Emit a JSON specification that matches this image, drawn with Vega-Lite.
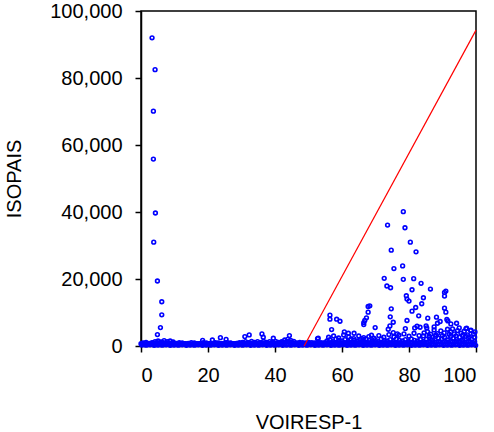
{
"$schema": "https://vega.github.io/schema/vega-lite/v6.json",
"width": 335, "height": 335,
"autosize": "none",
"padding": {"left": 141, "top": 11, "right": 18, "bottom": 86},
"background": "white",
"config": {
  "view": {"stroke": "black", "strokeWidth": 1.5},
  "axis": {"grid": false, "domainColor": "black", "domainWidth": 1.5, "tickColor": "black", "tickWidth": 1.5, "tickSize": 6,
    "labelFont": "Liberation Sans", "labelFontSize": 20, "labelColor": "black",
    "titleFont": "Liberation Sans", "titleFontSize": 20, "titleFontWeight": "normal", "titleColor": "black"}
},
"encoding": {
  "x": {"field": "x", "type": "quantitative", "scale": {"domain": [0, 100], "nice": false}, "axis": {"values": [0,20,40,60,80,100], "title": "VOIRESP-1", "labelPadding": 13, "titlePadding": 27}},
  "y": {"field": "y", "type": "quantitative", "scale": {"domain": [0, 100000], "nice": false}, "axis": {"values": [0,20000,40000,60000,80000,100000], "format": ",.0f", "formatType": "number", "title": "ISOPAIS", "labelPadding": 13, "titlePadding": 25}}
},
"layer": [
{
"data": {"values": [
{"x":0.3,"y":300},{"x":0.9,"y":500},{"x":1.5,"y":250},{"x":2.1,"y":450},{"x":2.7,"y":350},{"x":3.3,"y":550},{"x":3.9,"y":200},{"x":4.5,"y":400},
{"x":5.1,"y":300},{"x":5.7,"y":500},{"x":6.3,"y":250},{"x":6.9,"y":450},{"x":7.5,"y":350},{"x":8.1,"y":550},{"x":8.7,"y":200},{"x":9.3,"y":400},
{"x":9.9,"y":300},{"x":10.5,"y":500},{"x":11.1,"y":250},{"x":11.7,"y":450},{"x":12.3,"y":350},{"x":12.9,"y":550},{"x":13.5,"y":200},{"x":14.1,"y":400},
{"x":14.7,"y":300},{"x":15.3,"y":500},{"x":15.9,"y":250},{"x":16.5,"y":450},{"x":17.1,"y":350},{"x":17.7,"y":550},{"x":18.3,"y":200},{"x":18.9,"y":400},
{"x":19.5,"y":300},{"x":20.1,"y":500},{"x":20.7,"y":250},{"x":21.3,"y":450},{"x":21.9,"y":350},{"x":22.5,"y":550},{"x":23.1,"y":200},{"x":23.7,"y":400},
{"x":24.3,"y":300},{"x":24.9,"y":500},{"x":25.5,"y":250},{"x":26.1,"y":450},{"x":26.7,"y":350},{"x":27.3,"y":550},{"x":27.9,"y":200},{"x":28.5,"y":400},
{"x":29.1,"y":300},{"x":29.7,"y":500},{"x":30.3,"y":250},{"x":30.9,"y":450},{"x":31.5,"y":350},{"x":32.1,"y":550},{"x":32.7,"y":200},{"x":33.3,"y":400},
{"x":33.9,"y":300},{"x":34.5,"y":500},{"x":35.1,"y":250},{"x":35.7,"y":450},{"x":36.3,"y":350},{"x":36.9,"y":550},{"x":37.5,"y":200},{"x":38.1,"y":400},
{"x":38.7,"y":300},{"x":39.3,"y":500},{"x":39.9,"y":250},{"x":40.5,"y":450},{"x":41.1,"y":350},{"x":41.7,"y":550},{"x":42.3,"y":200},{"x":42.9,"y":400},
{"x":43.5,"y":300},{"x":44.1,"y":500},{"x":44.7,"y":250},{"x":45.3,"y":450},{"x":45.9,"y":350},{"x":46.5,"y":550},{"x":47.1,"y":200},{"x":47.7,"y":400},
{"x":48.3,"y":300},{"x":48.9,"y":500},{"x":49.5,"y":250},{"x":50.1,"y":450},{"x":50.7,"y":350},{"x":51.3,"y":550},{"x":51.9,"y":200},{"x":52.5,"y":400},
{"x":53.1,"y":300},{"x":53.7,"y":500},{"x":54.3,"y":250},{"x":54.9,"y":450},{"x":55.5,"y":350},{"x":56.1,"y":550},{"x":56.7,"y":200},{"x":57.3,"y":400},
{"x":57.9,"y":300},{"x":58.5,"y":500},{"x":59.1,"y":250},{"x":59.7,"y":450},{"x":60.3,"y":350},{"x":60.9,"y":550},{"x":61.5,"y":200},{"x":62.1,"y":400},
{"x":62.7,"y":300},{"x":63.3,"y":500},{"x":63.9,"y":250},{"x":64.5,"y":450},{"x":65.1,"y":350},{"x":65.7,"y":550},{"x":66.3,"y":200},{"x":66.9,"y":400},
{"x":67.5,"y":300},{"x":68.1,"y":500},{"x":68.7,"y":250},{"x":69.3,"y":450},{"x":69.9,"y":350},{"x":70.5,"y":550},{"x":71.1,"y":200},{"x":71.7,"y":400},
{"x":72.3,"y":300},{"x":72.9,"y":500},{"x":73.5,"y":250},{"x":74.1,"y":450},{"x":74.7,"y":350},{"x":75.3,"y":550},{"x":75.9,"y":200},{"x":76.5,"y":400},
{"x":77.1,"y":300},{"x":77.7,"y":500},{"x":78.3,"y":250},{"x":78.9,"y":450},{"x":79.5,"y":350},{"x":80.1,"y":550},{"x":80.7,"y":200},{"x":81.3,"y":400},
{"x":81.9,"y":300},{"x":82.5,"y":500},{"x":83.1,"y":250},{"x":83.7,"y":450},{"x":84.3,"y":350},{"x":84.9,"y":550},{"x":85.5,"y":200},{"x":86.1,"y":400},
{"x":86.7,"y":300},{"x":87.3,"y":500},{"x":87.9,"y":250},{"x":88.5,"y":450},{"x":89.1,"y":350},{"x":89.7,"y":550},{"x":90.3,"y":200},{"x":90.9,"y":400},
{"x":91.5,"y":300},{"x":92.1,"y":500},{"x":92.7,"y":250},{"x":93.3,"y":450},{"x":93.9,"y":350},{"x":94.5,"y":550},{"x":95.1,"y":200},{"x":95.7,"y":400},
{"x":96.3,"y":300},{"x":96.9,"y":500},{"x":97.5,"y":250},{"x":98.1,"y":450},{"x":98.7,"y":350},{"x":99.3,"y":550},{"x":99.9,"y":200},
{"x":0.0,"y":700},{"x":0.6,"y":750},{"x":1.2,"y":650},{"x":1.8,"y":800},{"x":2.4,"y":700},{"x":3.0,"y":750},{"x":3.6,"y":900},{"x":4.2,"y":850},{"x":4.8,"y":1000},{"x":5.4,"y":950},
{"x":6.0,"y":900},{"x":6.6,"y":1000},{"x":7.2,"y":850},{"x":7.8,"y":950},{"x":8.4,"y":900},{"x":9.0,"y":800},{"x":9.6,"y":750},{"x":10.2,"y":700},{"x":10.8,"y":650},{"x":11.4,"y":700},
{"x":12.0,"y":650},{"x":12.6,"y":700},{"x":13.2,"y":600},{"x":13.8,"y":650},{"x":14.4,"y":700},{"x":15.0,"y":650},{"x":15.6,"y":600},{"x":16.2,"y":700},{"x":16.8,"y":650},{"x":17.4,"y":700},
{"x":18.0,"y":650},{"x":18.6,"y":700},{"x":19.2,"y":600},{"x":19.8,"y":650},{"x":20.4,"y":700},{"x":21.0,"y":750},{"x":21.6,"y":650},{"x":22.2,"y":700},{"x":22.8,"y":800},{"x":23.4,"y":700},
{"x":24.0,"y":650},{"x":24.6,"y":750},{"x":25.2,"y":700},{"x":25.8,"y":650},{"x":26.4,"y":700},{"x":27.0,"y":750},{"x":27.6,"y":650},{"x":28.2,"y":700},{"x":28.8,"y":750},{"x":29.4,"y":700},
{"x":30.0,"y":800},{"x":30.6,"y":850},{"x":31.2,"y":750},{"x":31.8,"y":900},{"x":32.4,"y":800},{"x":33.0,"y":850},{"x":33.6,"y":750},{"x":34.2,"y":900},{"x":34.8,"y":800},{"x":35.4,"y":850},
{"x":36.0,"y":750},{"x":36.6,"y":900},{"x":37.2,"y":800},{"x":37.8,"y":850},{"x":38.4,"y":750},{"x":39.0,"y":900},{"x":39.6,"y":800},{"x":40.2,"y":850},{"x":40.8,"y":900},{"x":41.4,"y":950},
{"x":42.0,"y":1000},{"x":42.6,"y":1100},{"x":43.2,"y":1200},{"x":43.8,"y":1300},{"x":44.4,"y":1200},{"x":45.0,"y":1100},{"x":45.6,"y":900},{"x":46.2,"y":800},{"x":46.8,"y":750},{"x":47.4,"y":700},
{"x":48.0,"y":750},{"x":48.6,"y":700},{"x":49.2,"y":650},{"x":49.8,"y":750},{"x":50.4,"y":700},{"x":51.0,"y":650},{"x":51.6,"y":750},{"x":52.2,"y":700},{"x":52.8,"y":750},{"x":53.4,"y":700},
{"x":54.0,"y":800},{"x":54.6,"y":850},{"x":55.2,"y":900},{"x":55.8,"y":1000},{"x":56.4,"y":950},{"x":57.0,"y":1000},{"x":57.6,"y":900},{"x":58.2,"y":1000},{"x":58.8,"y":950},{"x":59.4,"y":1000},
{"x":60.0,"y":900},{"x":60.6,"y":1000},{"x":61.2,"y":950},{"x":61.8,"y":1000},{"x":62.4,"y":900},{"x":63.0,"y":1000},{"x":63.6,"y":950},{"x":64.2,"y":1000},{"x":64.8,"y":900},{"x":65.4,"y":1000},
{"x":66.0,"y":950},{"x":66.6,"y":1000},{"x":67.2,"y":900},{"x":67.8,"y":1000},{"x":68.4,"y":950},{"x":69.0,"y":1000},{"x":69.6,"y":900},{"x":70.2,"y":1000},{"x":70.8,"y":950},{"x":71.4,"y":1000},
{"x":72.0,"y":900},{"x":72.6,"y":1000},{"x":73.2,"y":950},{"x":73.8,"y":1000},{"x":74.4,"y":900},{"x":75.0,"y":1000},{"x":75.6,"y":950},{"x":76.2,"y":1000},{"x":76.8,"y":900},{"x":77.4,"y":1000},
{"x":78.0,"y":950},{"x":78.6,"y":1000},{"x":79.2,"y":900},{"x":79.8,"y":1000},{"x":80.4,"y":950},{"x":81.0,"y":1000},{"x":81.6,"y":900},{"x":82.2,"y":1000},{"x":82.8,"y":950},{"x":83.4,"y":1000},
{"x":84.0,"y":900},{"x":84.6,"y":1000},{"x":85.2,"y":1100},{"x":85.8,"y":1200},{"x":86.4,"y":1100},{"x":87.0,"y":1300},{"x":87.6,"y":1200},{"x":88.2,"y":1100},{"x":88.8,"y":1300},{"x":89.4,"y":1200},
{"x":90.0,"y":1100},{"x":90.6,"y":1300},{"x":91.2,"y":1200},{"x":91.8,"y":1100},{"x":92.4,"y":1300},{"x":93.0,"y":1200},{"x":93.6,"y":1100},{"x":94.2,"y":1300},{"x":94.8,"y":1200},{"x":95.4,"y":1100},
{"x":96.0,"y":1300},{"x":96.6,"y":1200},{"x":97.2,"y":1100},{"x":97.8,"y":1300},{"x":98.4,"y":1200},{"x":99.0,"y":1100},{"x":99.6,"y":1300},
{"x":0.6,"y":900},{"x":1.5,"y":1100},{"x":2.4,"y":800},{"x":3.3,"y":1000},{"x":4.2,"y":1300},{"x":5.1,"y":1500},{"x":6.0,"y":1200},{"x":6.9,"y":1600},{"x":7.8,"y":1300},{"x":8.7,"y":1500},{"x":9.6,"y":1200},
{"x":10.5,"y":800},{"x":11.4,"y":1000},{"x":12.3,"y":900},{"x":13.2,"y":700},{"x":14.1,"y":800},{"x":15.0,"y":1000},{"x":15.9,"y":900},{"x":16.8,"y":700},{"x":17.7,"y":800},{"x":18.6,"y":1000},{"x":19.5,"y":900},
{"x":20.4,"y":700},{"x":21.3,"y":800},{"x":22.2,"y":1000},{"x":23.1,"y":900},{"x":24.0,"y":700},{"x":24.9,"y":800},{"x":25.8,"y":1000},{"x":26.7,"y":900},{"x":27.6,"y":700},{"x":28.5,"y":800},{"x":29.4,"y":1000},
{"x":30.3,"y":1100},{"x":31.2,"y":1300},{"x":32.1,"y":1000},{"x":33.0,"y":1400},{"x":33.9,"y":1100},{"x":34.8,"y":1300},{"x":35.7,"y":1000},{"x":36.6,"y":1400},{"x":37.5,"y":1100},{"x":38.4,"y":1300},{"x":39.3,"y":1000},
{"x":40.2,"y":1400},{"x":41.1,"y":1100},{"x":42.0,"y":1300},{"x":42.9,"y":1800},{"x":43.8,"y":2000},{"x":44.7,"y":1700},{"x":45.6,"y":1400},{"x":46.5,"y":900},{"x":47.4,"y":1100},{"x":48.3,"y":1000},{"x":49.2,"y":900},
{"x":50.1,"y":1100},{"x":51.0,"y":1000},{"x":51.9,"y":900},{"x":52.8,"y":1100},{"x":53.7,"y":1000},{"x":54.6,"y":900},{"x":55.5,"y":1500},{"x":56.4,"y":1900},{"x":57.3,"y":1300},{"x":58.2,"y":2100},{"x":59.1,"y":1700},
{"x":60.0,"y":1500},{"x":60.9,"y":1900},{"x":61.8,"y":1300},{"x":62.7,"y":2100},{"x":63.6,"y":1700},{"x":64.5,"y":1500},{"x":65.4,"y":1900},{"x":66.3,"y":1300},{"x":67.2,"y":2100},{"x":68.1,"y":1700},{"x":69.0,"y":1500},
{"x":69.9,"y":1900},{"x":70.8,"y":1300},{"x":71.7,"y":2100},{"x":72.6,"y":1700},{"x":73.5,"y":1500},{"x":74.4,"y":1900},{"x":75.3,"y":1300},{"x":76.2,"y":2100},{"x":77.1,"y":1700},{"x":78.0,"y":1500},{"x":78.9,"y":1900},
{"x":79.8,"y":1300},{"x":80.7,"y":2100},{"x":81.6,"y":1700},{"x":82.5,"y":1500},{"x":83.4,"y":1900},{"x":84.3,"y":1300},{"x":85.2,"y":2000},{"x":86.1,"y":2600},{"x":87.0,"y":1800},{"x":87.9,"y":2900},{"x":88.8,"y":2300},
{"x":89.7,"y":2000},{"x":90.6,"y":2600},{"x":91.5,"y":1800},{"x":92.4,"y":2900},{"x":93.3,"y":2300},{"x":94.2,"y":2000},{"x":95.1,"y":2600},{"x":96.0,"y":1800},{"x":96.9,"y":2900},{"x":97.8,"y":2300},{"x":98.7,"y":2000},{"x":99.6,"y":2600},
{"x":56.0,"y":2600},{"x":57.5,"y":3000},{"x":59.0,"y":2400},{"x":60.5,"y":3300},{"x":62.0,"y":2700},{"x":63.5,"y":2200},{"x":65.0,"y":3000},{"x":66.5,"y":2500},{"x":68.0,"y":2800},{"x":69.5,"y":2300},{"x":71.0,"y":3100},
{"x":72.5,"y":2600},{"x":74.0,"y":3400},{"x":75.5,"y":2700},{"x":77.0,"y":3200},{"x":78.5,"y":3600},{"x":80.0,"y":2900},{"x":81.5,"y":3800},{"x":83.0,"y":3100},{"x":84.5,"y":3900},{"x":85.5,"y":4300},{"x":86.5,"y":3500},
{"x":87.5,"y":4800},{"x":88.5,"y":3700},{"x":89.5,"y":4500},{"x":90.5,"y":3900},{"x":91.5,"y":5000},{"x":92.5,"y":4200},{"x":93.5,"y":3600},{"x":94.5,"y":4600},{"x":95.5,"y":3800},{"x":96.5,"y":4400},{"x":97.5,"y":3300},
{"x":98.5,"y":4700},{"x":99.3,"y":3600},{"x":86.0,"y":3000},{"x":88.0,"y":3300},{"x":90.0,"y":3100},{"x":92.0,"y":3500},{"x":94.0,"y":3000},{"x":96.0,"y":3200},{"x":98.0,"y":2800},{"x":99.7,"y":4200},{"x":97.0,"y":5200},{"x":95.0,"y":5400},{"x":93.0,"y":5100},
{"x":3.3,"y":92000},{"x":4.2,"y":82500},{"x":3.7,"y":70100},{"x":3.7,"y":55800},{"x":4.3,"y":39700},{"x":3.8,"y":31000},{"x":4.9,"y":19400},{"x":6.2,"y":13200},{"x":6.2,"y":9300},{"x":5.8,"y":5500},{"x":4.9,"y":3400},
{"x":18.4,"y":1700},{"x":21.3,"y":1800},{"x":23.7,"y":2500},{"x":25.4,"y":2000},{"x":31.0,"y":2800},{"x":32.3,"y":3300},{"x":36.1,"y":3600},{"x":36.5,"y":2600},{"x":39.5,"y":2300},{"x":44.3,"y":3100},{"x":52.9,"y":2300},
{"x":78.3,"y":40100},{"x":73.6,"y":36100},{"x":78.8,"y":35300},{"x":80.4,"y":31000},{"x":74.7,"y":28600},{"x":82.1,"y":28100},{"x":75.5,"y":23100},{"x":78.1,"y":23900},{"x":72.6,"y":20200},{"x":78.3,"y":19900},{"x":81.4,"y":20100},
{"x":73.4,"y":17900},{"x":74.5,"y":17400},{"x":83.6,"y":18700},{"x":80.9,"y":16800},{"x":86.4,"y":17000},{"x":79.2,"y":15000},{"x":79.4,"y":14000},{"x":80.0,"y":13400},{"x":84.3,"y":14400},{"x":83.8,"y":12600},{"x":82.0,"y":11500},
{"x":80.9,"y":10400},{"x":82.9,"y":9000},{"x":85.6,"y":8300},{"x":79.4,"y":7600},{"x":74.7,"y":11100},{"x":74.4,"y":8700},{"x":75.3,"y":7100},{"x":90.6,"y":16000},{"x":91.0,"y":16400},{"x":90.6,"y":14900},{"x":90.6,"y":11300},
{"x":91.0,"y":10100},{"x":88.2,"y":8600},{"x":91.3,"y":7900},{"x":67.8,"y":11800},{"x":68.3,"y":12000},{"x":67.8,"y":10100},{"x":67.3,"y":8400},{"x":66.8,"y":7600},{"x":66.5,"y":7000},{"x":66.5,"y":6400},
{"x":56.4,"y":9200},{"x":56.4,"y":8000},{"x":58.4,"y":8000},{"x":59.4,"y":7400},{"x":56.9,"y":4900},{"x":69.9,"y":5500},{"x":68.8,"y":3200},{"x":78.9,"y":5200},{"x":81.7,"y":5400},{"x":82.4,"y":5900},{"x":83.3,"y":5600},
{"x":85.1,"y":6000},{"x":85.3,"y":5400},{"x":87.5,"y":5700},{"x":88.5,"y":6800},{"x":89.3,"y":7300},{"x":91.6,"y":7500},{"x":92.5,"y":6600},{"x":94.2,"y":6800},{"x":97.2,"y":5300},{"x":98.4,"y":4600},{"x":74.3,"y":6000},
{"x":73.8,"y":5000},{"x":75.3,"y":4000},{"x":60.7,"y":4200},{"x":61.9,"y":3800},{"x":63.6,"y":3800},{"x":52.7,"y":2200},{"x":65.9,"y":2200},{"x":84.3,"y":3000},{"x":76.5,"y":3600}
]},
"mark": {"type": "point", "shape": "circle", "filled": false, "color": "#0000ff", "size": 14, "strokeWidth": 1.6, "opacity": 1}
},
{
"data": {"values": [{"x": 48.7, "y": 0}, {"x": 100, "y": 94300}]},
"mark": {"type": "line", "color": "#ff0000", "strokeWidth": 1.2}
}
]
}
